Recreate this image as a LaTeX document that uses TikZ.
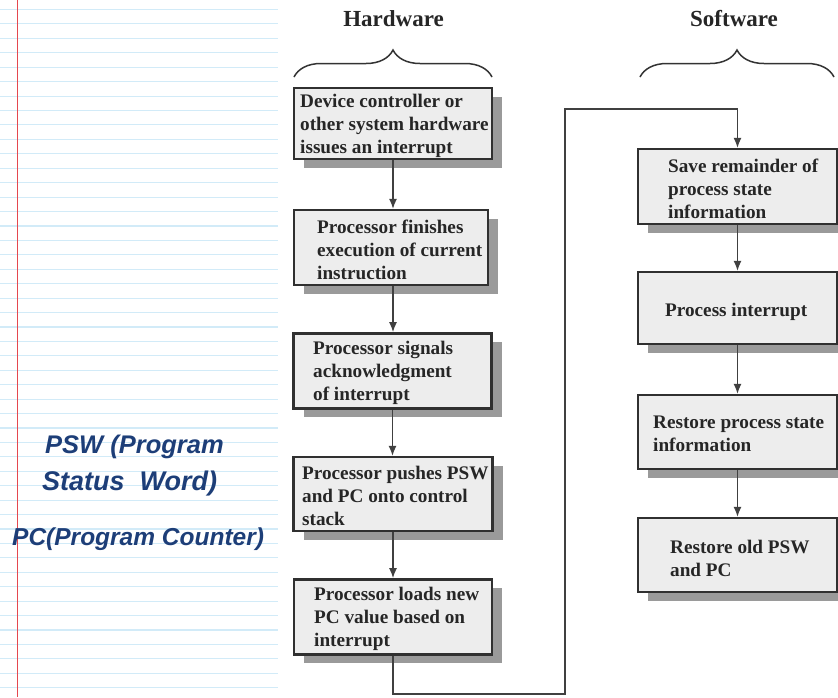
\documentclass[tikz,border=0pt]{standalone}
\usepackage{fontspec}
\setmainfont{Liberation Serif}
\newfontfamily\handfont{Liberation Sans}
\usetikzlibrary{arrows.meta,decorations.pathreplacing,shadows}
\definecolor{ruleblue}{HTML}{D2EBF8}
\definecolor{marginred}{HTML}{E5484F}
\definecolor{inkblue}{HTML}{1D3E78}
\definecolor{boxfill}{HTML}{EDEDED}
\definecolor{boxline}{HTML}{303030}
\definecolor{shadowgray}{HTML}{9A9A9A}
\definecolor{conn}{HTML}{404040}
\begin{document}
\begin{tikzpicture}[x=1pt,y=-1pt,
  flowbox/.style={draw=boxline, line width=2.4pt, fill=boxfill, inner sep=0pt,
    general shadow={fill=shadowgray, shadow xshift=10pt, shadow yshift=-9pt}},
  boxtext/.style={anchor=west, align=left, inner sep=0pt,
    font=\fontsize{19.2}{23}\selectfont\bfseries, text=black!85},
  titletext/.style={anchor=base, inner sep=0pt, font=\fontsize{23}{27}\selectfont\bfseries, text=black!85},
  arr/.style={draw=conn, line width=1.3pt, -{Latex[length=10pt,width=8pt]}},
  bracepath/.style={draw=black!80, line width=1.5pt, decorate, decoration={brace, amplitude=27pt}},
  hand/.style={anchor=base west, inner sep=0pt, text=inkblue, font=\handfont\bfseries\itshape}
]
\useasboundingbox (0,0) rectangle (838,697);
\fill[white] (0,0) rectangle (838,697);
% notebook ruling
\foreach \k in {0,...,47} \draw[ruleblue, line width=1.1pt] (0,{9.5+14.43*\k}) -- (278,{9.5+14.43*\k});
\draw[marginred, line width=1.2pt] (17.3,0) -- (17.3,697);
% handwritten notes
\node[hand, font=\handfont\bfseries\itshape\fontsize{25.5}{30}\selectfont] (n1) at (45,453) {PSW (Program};
\node[hand, font=\handfont\bfseries\itshape\fontsize{27}{31}\selectfont] (n2) at (42,490) {Status\ \ Word)};
\node[hand, font=\handfont\bfseries\itshape\fontsize{24.5}{29}\selectfont] (n3) at (12,545) {PC(Program Counter)};
% titles and braces
\node[titletext] (hw) at (393.5,26.7) {Hardware};
\node[titletext] (sw) at (734,26.7) {Software};
\coordinate (hbl) at (294,77); \coordinate (hbr) at (492,77);
\coordinate (sbl) at (640,77); \coordinate (sbr) at (834,77);
\draw[bracepath] (hbl) -- (hbr);
\draw[bracepath] (sbl) -- (sbr);
% hardware boxes
\node[flowbox, minimum width=198pt, minimum height=71pt] (h1) at (393,123.5) {};
\node[flowbox, minimum width=194pt, minimum height=75pt] (h2) at (391,247.5) {};
\node[flowbox, minimum width=198pt, minimum height=75pt] (h3) at (392.5,370.8) {};
\node[flowbox, minimum width=199pt, minimum height=74pt] (h4) at (393,494) {};
\node[flowbox, minimum width=198pt, minimum height=75pt] (h5) at (393,616.8) {};
\node[boxtext] (th1) at (300,125.5) {Device controller or\\other system hardware\\issues an interrupt};
\node[boxtext] (th2) at (317,249.5) {Processor finishes\\execution of current\\instruction};
\node[boxtext] (th3) at (313,372.8) {Processor signals\\acknowledgment\\of interrupt};
\node[boxtext] (th4) at (302,496) {Processor pushes PSW\\and PC onto control\\stack};
\node[boxtext] (th5) at (314,618.8) {Processor loads new\\PC value based on\\interrupt};
% software boxes
\node[flowbox, minimum width=199pt, minimum height=75pt] (s1) at (737.5,186.5) {};
\node[flowbox, minimum width=199pt, minimum height=72pt] (s2) at (737.5,308) {};
\node[flowbox, minimum width=199pt, minimum height=74pt] (s3) at (737.5,432) {};
\node[flowbox, minimum width=199pt, minimum height=74pt] (s4) at (737.5,555) {};
\node[boxtext] (ts1) at (668,188.5) {Save remainder of\\process state\\information};
\node[boxtext] (ts2) at (665,312) {Process interrupt};
\node[boxtext] (ts3) at (653,434) {Restore process state\\information};
\node[boxtext] (ts4) at (670,558) {Restore old PSW\\and PC};
% connectors
\draw[arr] (h1.south) -- (h1.south |- h2.north);
\draw[arr] (h1.south |- h2.south) -- (h1.south |- h3.north);
\draw[arr] (h3.south) -- (h3.south |- h4.north);
\draw[arr] (h4.south) -- (h4.south |- h5.north);
\coordinate (lb) at (565,694);
\coordinate (lt) at (565,109);
\draw[arr] (h5.south) |- (lb) -- (lt) -| (s1.north);
\draw[arr] (s1.south) -- (s2.north);
\draw[arr] (s2.south) -- (s3.north);
\draw[arr] (s3.south) -- (s4.north);
\end{tikzpicture}
\end{document}
